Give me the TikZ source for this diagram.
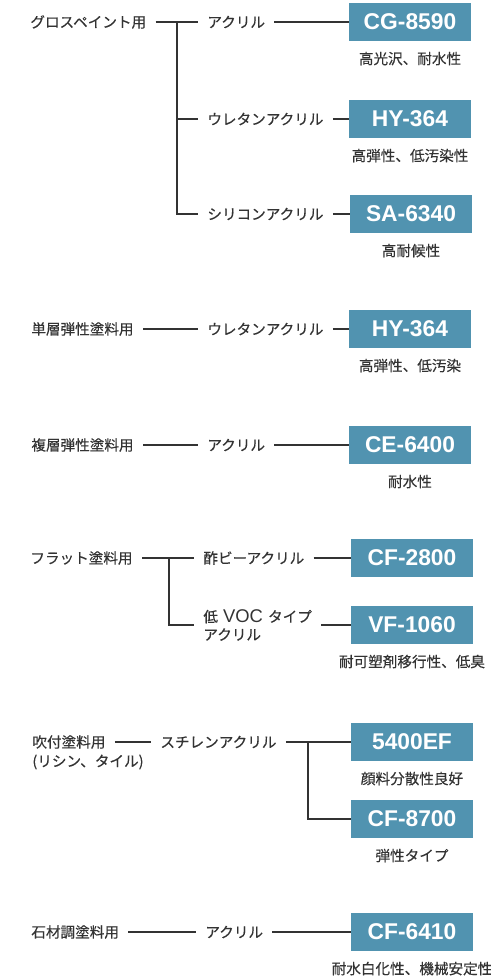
\documentclass[tikz,border=0pt]{standalone}
\usepackage{fontspec}
\setmainfont{Liberation Sans}
\newfontfamily\jpfont[FakeBold=0.4]{Noto Sans CJK JP}
\usetikzlibrary{positioning}
\definecolor{boxblue}{HTML}{5193B0}
\definecolor{ink}{HTML}{333333}
\tikzstyle{usage}=[anchor=west,inner xsep=4.5pt,inner ysep=1pt,text=ink,font=\jpfont\fontsize{7.3}{9}\selectfont]
\tikzstyle{resin}=[usage]
\tikzstyle{product}=[fill=boxblue,text=white,minimum width=61pt,minimum height=19pt,inner sep=0pt,font=\bfseries\fontsize{11.4}{12}\selectfont]
\tikzstyle{feature}=[inner sep=1pt,text=ink,font=\jpfont\fontsize{7.3}{9}\selectfont]
\tikzstyle{link}=[draw=ink,line width=1pt]

\begin{document}
\begin{tikzpicture}[x=0.5pt,y=-0.5pt]
\useasboundingbox (0,0) rectangle (491,980);
% gloss paint
\node[usage] (gloss) at (21,22) {グロスペイント用};
\node[resin] (acryl1) at (198,22) {アクリル};
\node[resin] (ureth1) at (198,119) {ウレタンアクリル};
\node[resin] (silic) at (198,214) {シリコンアクリル};
\node[product] (cg) at (410,22) {CG-8590};
\node[product] (hy1) at (410,119) {HY-364};
\node[product] (sa) at (411,214) {SA-6340};
\node[feature,below=4pt of cg] (cgf) {高光沢、耐水性};
\node[feature,below=4pt of hy1] (hy1f) {高弾性、低汚染性};
\node[feature,below=4pt of sa] (saf) {高耐候性};
\coordinate (j1) at (177,22);
\draw[link] (gloss.east) -- (acryl1.west);
\draw[link] (j1) |- (ureth1.west);
\draw[link] (j1) |- (silic.west);
\draw[link] (acryl1.east) -- (cg.west);
\draw[link] (ureth1.east) -- (hy1.west);
\draw[link] (silic.east) -- (sa.west);
% single layer
\node[usage] (single) at (22,329) {単層弾性塗料用};
\node[resin] (ureth2) at (198,329) {ウレタンアクリル};
\node[product] (hy2) at (410,329) {HY-364};
\node[feature,below=4pt of hy2] (hy2f) {高弾性、低汚染};
\draw[link] (single.east) -- (ureth2.west);
\draw[link] (ureth2.east) -- (hy2.west);
% multi layer
\node[usage] (multi) at (22,445) {複層弾性塗料用};
\node[resin] (acryl2) at (198,445) {アクリル};
\node[product] (ce) at (410,445) {CE-6400};
\node[feature,below=4pt of ce] (cef) {耐水性};
\draw[link] (multi.east) -- (acryl2.west);
\draw[link] (acryl2.east) -- (ce.west);
% flat
\node[usage] (flat) at (21,558) {フラット塗料用};
\node[resin] (vinyl) at (194,558) {酢ビーアクリル};
\node[resin,align=left] (lowvoc) at (194,625) {低{\rmfamily\fontsize{9.2}{9}\selectfont\ VOC\ }タイプ\\アクリル};
\node[product] (cf28) at (412,558) {CF-2800};
\node[product] (vf) at (412,625) {VF-1060};
\node[feature,below=4pt of vf] (vff) {耐可塑剤移行性、低臭};
\coordinate (j2) at (169,558);
\draw[link] (flat.east) -- (vinyl.west);
\draw[link] (j2) |- (lowvoc.west);
\draw[link] (vinyl.east) -- (cf28.west);
\draw[link] (lowvoc.east) -- (vf.west);
% spray
\node[usage] (spray) at (23,742) {吹付塗料用};
\node[usage] (spraysub) at (23,762) {(リシン、タイル)};
\node[resin] (styr) at (151,742) {スチレンアクリル};
\node[product] (ef) at (412,742) {5400EF};
\node[product] (cf87) at (412,819) {CF-8700};
\node[feature,below=4pt of ef] (eff) {顔料分散性良好};
\node[feature,below=4pt of cf87] (cf87f) {弾性タイプ};
\coordinate (j3) at (308,742);
\draw[link] (spray.east) -- (styr.west);
\draw[link] (styr.east) -- (ef.west);
\draw[link] (j3) |- (cf87.west);
% stone
\node[usage] (stone) at (22,932) {石材調塗料用};
\node[resin] (acryl3) at (196,932) {アクリル};
\node[product] (cf64) at (412,932) {CF-6410};
\node[feature,below=4pt of cf64] (cf64f) {耐水白化性、機械安定性};
\draw[link] (stone.east) -- (acryl3.west);
\draw[link] (acryl3.east) -- (cf64.west);
\end{tikzpicture}
\end{document}
